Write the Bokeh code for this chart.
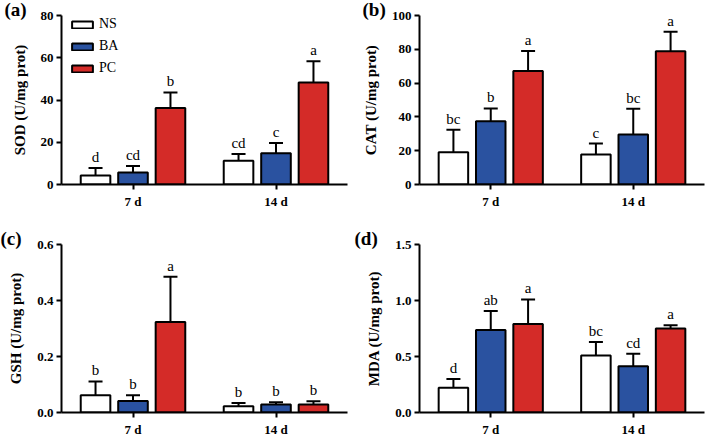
from bokeh.plotting import figure
from bokeh.models import (ColumnDataSource, FactorRange, Range1d, FixedTicker,
                          PrintfTickFormatter, Whisker, TeeHead, Legend)
from bokeh.transform import dodge
from bokeh.layouts import gridplot
from bokeh.core.properties import value
from bokeh.embed import file_html
from bokeh.resources import INLINE

groups = ["7 d", "14 d"]
series = ["NS", "BA", "PC"]
colors = {"NS": "#ffffff", "BA": "#2a52a0", "PC": "#d42b28"}
offsets = {"NS": -0.262, "BA": 0.0, "PC": 0.262}

# SOD
sod_mean = {"NS": [4.3, 11.2], "BA": [5.7, 14.8], "PC": [36.2, 48.3]}
sod_sd = {"NS": [3.5, 3.2], "BA": [3.0, 4.8], "PC": [7.4, 10.1]}
sod_lab = {"NS": ["d", "cd"], "BA": ["cd", "c"], "PC": ["b", "a"]}
sod_ticks = [0, 20, 40, 60, 80]

# CAT
cat_mean = {"NS": [19.1, 17.7], "BA": [37.4, 29.6], "PC": [67.1, 78.9]}
cat_sd = {"NS": [13.3, 6.5], "BA": [7.6, 15.2], "PC": [11.9, 11.5]}
cat_lab = {"NS": ["bc", "c"], "BA": ["b", "bc"], "PC": ["a", "a"]}
cat_ticks = [0, 20, 40, 60, 80, 100]

# GSH
gsh_mean = {"NS": [0.062, 0.022], "BA": [0.041, 0.029], "PC": [0.323, 0.029]}
gsh_sd = {"NS": [0.049, 0.012], "BA": [0.021, 0.008], "PC": [0.162, 0.011]}
gsh_lab = {"NS": ["b", "b"], "BA": ["b", "b"], "PC": ["a", "b"]}
gsh_ticks = [0.0, 0.2, 0.4, 0.6]

# MDA
mda_mean = {"NS": [0.22, 0.51], "BA": [0.737, 0.414], "PC": [0.79, 0.75]}
mda_sd = {"NS": [0.08, 0.12], "BA": [0.17, 0.11], "PC": [0.22, 0.03]}
mda_lab = {"NS": ["d", "bc"], "BA": ["ab", "cd"], "PC": ["a", "a"]}
mda_ticks = [0.0, 0.5, 1.0, 1.5]

SERIF = "Liberation Serif"


def make_panel(tag, ylabel, means, sds, labs, ticks, fmt, w, h, bl, br, bt, bb,
               legend=False):
    p = figure(x_range=FactorRange(*groups, range_padding=0.0),
               y_range=Range1d(ticks[0], ticks[-1]),
               width=w, height=h, output_backend="svg", toolbar_location=None,
               min_border_left=bl, min_border_right=br, min_border_top=bt,
               min_border_bottom=bb, title=tag)
    p.title.text_font = SERIF
    p.title.text_font_style = "bold"
    p.title.text_font_size = "19px"
    p.title.text_color = "black"
    p.title.align = "left"
    p.title.offset = -bl
    p.title.standoff = -8

    p.outline_line_color = None
    p.xgrid.grid_line_color = None
    p.ygrid.grid_line_color = None
    p.background_fill_color = "white"
    p.border_fill_color = "white"

    for ax in (p.xaxis[0], p.yaxis[0]):
        ax.axis_line_width = 2
        ax.axis_line_color = "black"
        ax.major_tick_line_width = 2
        ax.major_tick_line_color = "black"
        ax.major_tick_out = 5
        ax.major_tick_in = 0
        ax.minor_tick_line_color = None
        ax.major_label_text_font = SERIF
        ax.major_label_text_font_style = "bold"
        ax.major_label_text_font_size = "13px"
        ax.major_label_text_color = "black"
        ax.major_label_standoff = 3
    p.yaxis.ticker = FixedTicker(ticks=ticks)
    p.yaxis.formatter = PrintfTickFormatter(format=fmt)
    p.yaxis.axis_label = ylabel
    p.yaxis.axis_label_text_font = SERIF
    p.yaxis.axis_label_text_font_style = "bold"
    p.yaxis.axis_label_text_font_size = "15px"
    p.yaxis.axis_label_text_color = "black"
    p.yaxis.axis_label_standoff = 10
    p.xaxis.major_label_standoff = 4

    items = []
    for s in series:
        upper = [m + d for m, d in zip(means[s], sds[s])]
        src = ColumnDataSource(dict(group=groups, mean=means[s], upper=upper,
                                    lab=labs[s]))
        xd = dodge("group", offsets[s], range=p.x_range)
        r = p.vbar(x=xd, top="mean", bottom=0, width=0.207, source=src,
                   fill_color=colors[s], line_color="black", line_width=2)
        items.append((s, [r]))
        wh = Whisker(base=xd, lower="mean", upper="upper", source=src,
                     dimension="height", line_width=2, line_color="black",
                     lower_head=None,
                     upper_head=TeeHead(size=14, line_width=2, line_color="black"))
        p.add_layout(wh)
        p.text(x=xd, y="upper", text="lab", source=src, text_align="center",
               text_baseline="bottom", y_offset=-3,
               text_font=value(SERIF), text_font_size="15px",
               text_color=value("#000000"), text_alpha=1.0)

    if legend:
        frame_h = h - bt - bb
        lg = Legend(items=items, location=(8, frame_h - 1 - 64),
                    padding=0, margin=0, spacing=2, label_height=20,
                    glyph_width=26, glyph_height=9, label_standoff=4,
                    border_line_color=None, background_fill_alpha=0,
                    label_text_font=SERIF, label_text_font_size="14px",
                    label_text_color="black")
        p.add_layout(lg)
    return p


pa = make_panel("(a)", "SOD (U/mg prot)", sod_mean, sod_sd, sod_lab, sod_ticks,
                "%d", 354, 220, 57, 6, 13, 36, legend=True)
pb = make_panel("(b)", "CAT (U/mg prot)", cat_mean, cat_sd, cat_lab, cat_ticks,
                "%d", 355, 220, 57, 5, 13, 36)
pc = make_panel("(c)", "GSH (U/mg prot)", gsh_mean, gsh_sd, gsh_lab, gsh_ticks,
                "%.1f", 354, 219, 61, 7, 24, 26)
pd_ = make_panel("(d)", "MDA (U/mg prot)", mda_mean, mda_sd, mda_lab, mda_ticks,
                 "%.1f", 355, 219, 65, 5, 24, 26)

grid = gridplot([[pa, pb], [pc, pd_]], toolbar_location=None)

open("out.html", "w").write(file_html(grid, INLINE))
